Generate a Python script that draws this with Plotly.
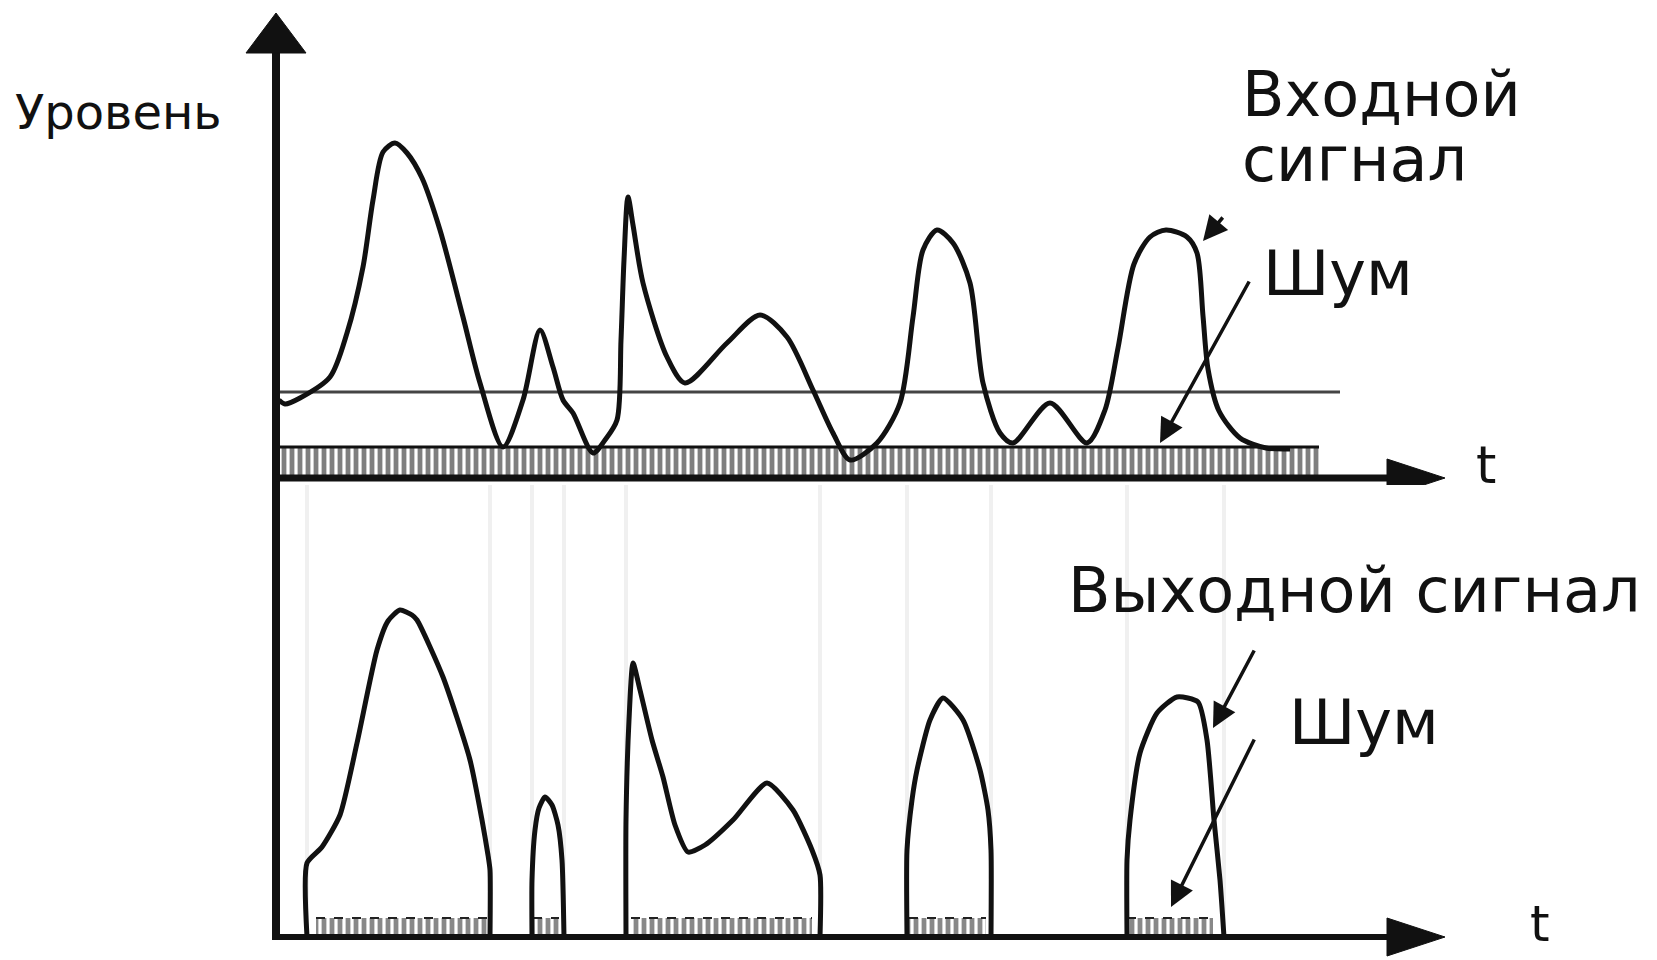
import plotly.graph_objects as go

# ---------------- data (time t, level) ----------------
input_t = [0.3, 0.9, 2.4, 5.4, 7.1, 8.7, 9.7, 10.7, 11.9, 13.1, 14.6, 16.4, 18.7, 20.4, 22.7, 24.7,
           26.4, 27.7, 28.7, 29.7, 31.7, 32.9, 34.1, 34.5, 34.8, 35.2, 35.7, 36.7, 39.1, 40.9, 45.1,
           48.4, 51.1, 53.7, 55.7, 57.4, 60.1, 62.4, 63.7, 64.7, 66.1, 67.7, 69.4, 70.7, 72.4, 73.7,
           77.4, 81.1, 82.9, 84.2, 85.8, 87.4, 89.0, 91.1, 92.1, 92.7, 93.2, 94.3, 96.4, 99.0, 101.4]
input_level = [7.8, 7.4, 8.0, 10.1, 14.5, 21.1, 27.8, 32.6, 33.5, 32.5, 30.0, 24.8, 16.1, 9.5, 3.1, 7.8,
               14.8, 11.1, 7.8, 6.5, 2.5, 3.8, 5.8, 13.8, 21.8, 28.1, 25.3, 19.5, 12.1, 9.5, 13.5,
               16.3, 14.1, 8.8, 4.5, 1.8, 3.5, 7.5, 16.1, 22.8, 24.8, 23.5, 19.5, 9.5, 4.5, 3.5,
               7.5, 3.5, 6.8, 13.0, 21.4, 24.1, 24.8, 24.1, 22.5, 16.2, 10.9, 6.7, 4.0, 3.0, 2.9]

threshold_level = 8.6
threshold_t = [0.0, 106.4]

noise_in_t = [0.2, 104.3]
noise_in_level = 3.1

out1_t = [3.1, 3.1, 4.6, 6.4, 8.1, 10.1, 11.2, 12.4, 13.6, 14.1, 16.7, 19.4, 20.6, 21.2, 21.4, 21.4]
out1_level = [0, 7.4, 9.0, 12.2, 19.4, 28.7, 31.6, 32.7, 32.2, 31.7, 26.0, 17.7, 11.7, 8.2, 6.7, 0]
out2_t = [25.6, 25.6, 25.9, 26.3, 26.9, 27.6, 28.2, 28.6, 28.8]
out2_level = [0, 5.7, 10.7, 12.9, 14.0, 13.2, 11.2, 7.7, 0]
out3_t = [35.0, 35.0, 35.3, 35.7, 36.4, 37.6, 38.7, 39.9, 41.2, 42.9, 45.7, 49.1, 51.7, 53.6, 54.4, 54.4]
out3_level = [0, 11.7, 21.7, 27.4, 24.7, 19.7, 16.0, 11.2, 8.5, 9.2, 11.7, 15.4, 12.7, 8.7, 6.2, 0]
out4_t = [63.1, 63.1, 63.6, 64.1, 65.4, 66.7, 68.7, 70.4, 71.2, 71.5, 71.5]
out4_level = [0, 8.7, 13.7, 16.7, 21.7, 23.9, 21.7, 16.7, 12.7, 8.7, 0]
out5_t = [85.1, 85.1, 85.4, 86.4, 88.1, 90.1, 92.2, 93.1, 93.8, 94.4, 94.8]
out5_level = [0, 7.7, 11.7, 18.4, 22.4, 24.0, 23.5, 19.7, 11.7, 5.7, 0]
output_segments = [(out1_t, out1_level), (out2_t, out2_level), (out3_t, out3_level),
                   (out4_t, out4_level), (out5_t, out5_level)]

noise_out_ranges = [(4.0, 21.1), (25.7, 28.3), (35.5, 53.6), (63.3, 71.0), (85.1, 93.7)]
noise_out_level = 1.9

axis_t_end = 116.9

FONT = "DejaVu Sans"
INK = "#111111"

fig = go.Figure()

# faint guide lines at gate transitions (bottom panel)
for tt, lv in output_segments:
    for edge in (tt[0], tt[-1]):
        fig.add_shape(type="line", xref="x", yref="y2", x0=edge, x1=edge, y0=0, y1=45.2,
                      line=dict(color="#f0f0f0", width=4), layer="below")

# top noise band
fig.add_trace(go.Scatter(x=noise_in_t, y=[noise_in_level] * 2, mode="lines",
                         line=dict(color=INK, width=3), fill="tozeroy",
                         fillpattern=dict(shape="|", size=8, solidity=0.6, fgcolor="#000000", bgcolor="white"),
                         xaxis="x", yaxis="y", showlegend=False, hoverinfo="skip"))
# threshold
fig.add_trace(go.Scatter(x=threshold_t, y=[threshold_level] * 2, mode="lines",
                         line=dict(color="#444444", width=3), xaxis="x", yaxis="y",
                         showlegend=False, hoverinfo="skip"))
# input signal
fig.add_trace(go.Scatter(x=input_t, y=input_level, mode="lines",
                         line=dict(color=INK, width=5, shape="spline", smoothing=0.8),
                         xaxis="x", yaxis="y", showlegend=False))

# bottom noise segments
for a, b in noise_out_ranges:
    fig.add_trace(go.Scatter(x=[a, b], y=[noise_out_level] * 2, mode="lines",
                             line=dict(color="#222222", width=2, dash="dash"), fill="tozeroy",
                             fillpattern=dict(shape="|", size=8, solidity=0.6, fgcolor="#111111", bgcolor="white"),
                             xaxis="x", yaxis="y2", showlegend=False, hoverinfo="skip"))
# output signal
for tt, lv in output_segments:
    fig.add_trace(go.Scatter(x=tt, y=lv, mode="lines",
                             line=dict(color=INK, width=5, shape="spline", smoothing=0.6),
                             xaxis="x", yaxis="y2", showlegend=False))

# axes (lines + arrowheads)
fig.add_shape(type="line", xref="x", yref="y", x0=0, x1=0, y0=-0.7, y1=43.0, line=dict(color=INK, width=8))
fig.add_shape(type="path", xref="x", yref="y", path="M -3.0,42.5 L 3.0,42.5 L 0,46.5 Z",
              fillcolor=INK, line=dict(color=INK, width=1))
fig.add_shape(type="line", xref="x", yref="y", x0=0, x1=axis_t_end - 5.5, y0=0, y1=0, line=dict(color=INK, width=7))
fig.add_shape(type="path", xref="x", yref="y",
              path=f"M {axis_t_end-5.8},1.9 L {axis_t_end},0 L {axis_t_end-5.8},-1.9 Z",
              fillcolor=INK, line=dict(color=INK, width=1))
fig.add_shape(type="line", xref="x", yref="y2", x0=0, x1=0, y0=-0.3, y1=45.2, line=dict(color=INK, width=8))
fig.add_shape(type="line", xref="x", yref="y2", x0=0, x1=axis_t_end - 5.5, y0=0, y1=0, line=dict(color=INK, width=6))
fig.add_shape(type="path", xref="x", yref="y2",
              path=f"M {axis_t_end-5.8},1.9 L {axis_t_end},0 L {axis_t_end-5.8},-1.9 Z",
              fillcolor=INK, line=dict(color=INK, width=1))

# texts
def txt(x, y, s, size, yref="y", xanchor="left"):
    fig.add_annotation(x=x, y=y, xref="x", yref=yref, text=s, showarrow=False,
                       xanchor=xanchor, yanchor="middle", font=dict(family=FONT, size=size, color=INK))

txt(-26.3, 36.6, "Уровень", 48)
txt(96.4, 38.4, "Входной", 62)
txt(96.4, 31.9, "сигнал", 62)
txt(98.5, 20.5, "Шум", 62)
txt(121.0, 1.3, "t", 52, xanchor="center")
txt(126.4, 1.3, "t", 50, yref="y2", xanchor="center")
txt(79.0, 34.7, "Выходной сигнал", 62, yref="y2")
txt(101.1, 21.5, "Шум", 62, yref="y2")

# pointer arrows
def arrow(x, y, ax, ay, yref="y"):
    fig.add_annotation(x=x, y=y, ax=ax, ay=ay, xref="x", yref=yref, axref="x", ayref=yref,
                       text="", showarrow=True, arrowhead=2, arrowsize=1.4, arrowwidth=3.5,
                       arrowcolor=INK)

arrow(92.7, 23.7, 94.8, 26.2)
arrow(88.4, 3.5, 97.4, 19.8)
arrow(93.7, 20.9, 97.9, 28.8, yref="y2")
arrow(89.5, 3.0, 97.9, 19.9, yref="y2")

split = 1 - 485 / 960
noax = dict(showgrid=False, zeroline=False, showticklabels=False, showline=False, ticks="")
fig.update_layout(
    width=1657, height=960, autosize=False,
    margin=dict(l=0, r=0, t=0, b=0, pad=0),
    paper_bgcolor="white", plot_bgcolor="white",
    xaxis=dict(range=[-27.6, 138.1], domain=[0, 1], anchor="y", **noax),
    yaxis=dict(range=[-0.7, 47.8], domain=[split, 1], anchor="x", **noax),
    yaxis2=dict(range=[-2.3, 45.2], domain=[0, split], anchor="x", **noax),
    showlegend=False,
)

fig.write_html("out.html", config={"displayModeBar": False},
               post_script="document.body.style.margin='0';document.body.style.overflow='hidden';")
